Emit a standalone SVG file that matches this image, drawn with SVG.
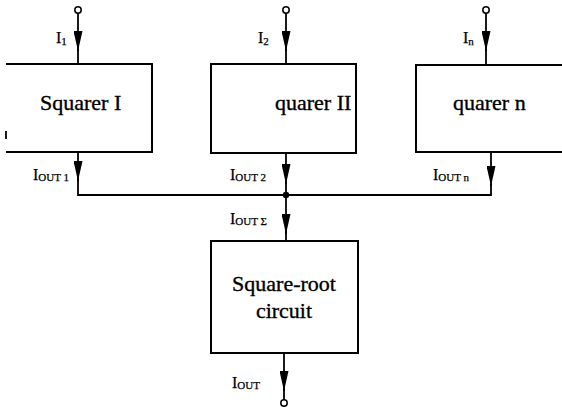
<svg xmlns="http://www.w3.org/2000/svg" width="562" height="412" viewBox="0 0 562 412">
<style>
.box{fill:none;stroke:#000;stroke-width:2}
.ln{fill:none;stroke:#000;stroke-width:1.8}
.term{fill:#fff;stroke:#000;stroke-width:1.5}
.big{font-family:"Liberation Serif",serif;font-size:22px;fill:#000;stroke:#000;stroke-width:0.35}
.lab{font-family:"Liberation Serif",serif;font-size:16px;fill:#000;stroke:#000;stroke-width:0.25}
.sub{font-size:11px}
</style>
<defs>
<marker id="ah" viewBox="0 0 20 9" refX="20" refY="4.5" markerWidth="20" markerHeight="9" markerUnits="userSpaceOnUse" orient="auto">
<path d="M0,0 L20,4.5 L0,9 Z" fill="#000"/>
</marker>
</defs>
<rect width="562" height="412" fill="#fff"/>
<g id="connectors">
<line class="ln" x1="78" y1="13" x2="78" y2="51" marker-end="url(#ah)"/>
<line class="ln" x1="78" y1="49" x2="78" y2="64"/>
<line class="ln" x1="286" y1="13" x2="286" y2="51" marker-end="url(#ah)"/>
<line class="ln" x1="286" y1="49" x2="286" y2="64"/>
<line class="ln" x1="486" y1="13" x2="486" y2="51" marker-end="url(#ah)"/>
<line class="ln" x1="486" y1="49" x2="486" y2="64"/>
<line class="ln" x1="78" y1="152" x2="78" y2="181" marker-end="url(#ah)"/>
<line class="ln" x1="286" y1="153" x2="286" y2="184" marker-end="url(#ah)"/>
<line class="ln" x1="491" y1="152" x2="491" y2="186" marker-end="url(#ah)"/>
<polyline class="ln" points="78,179 78,195 491,195 491,184"/>
<line class="ln" x1="286" y1="182" x2="286" y2="195"/>
<circle cx="286" cy="195" r="3.2" fill="#000"/>
<line class="ln" x1="286" y1="195" x2="286" y2="234" marker-end="url(#ah)"/>
<line class="ln" x1="286" y1="232" x2="286" y2="241"/>
<line class="ln" x1="284" y1="353" x2="284" y2="391" marker-end="url(#ah)"/>
<line class="ln" x1="284" y1="389" x2="284" y2="400"/>
<circle class="term" cx="78" cy="10" r="3.2"/>
<circle class="term" cx="286" cy="10" r="3.2"/>
<circle class="term" cx="486" cy="10" r="3.2"/>
<circle class="term" cx="284" cy="403" r="3.2"/>
<text class="lab" x="56" y="43">I<tspan class="sub" dy="2">1</tspan></text>
<text class="lab" x="258" y="43">I<tspan class="sub" dy="2">2</tspan></text>
<text class="lab" x="463" y="43">I<tspan class="sub" dy="2">n</tspan></text>
<text class="lab" x="33" y="180">I<tspan class="sub" dy="1">OUT 1</tspan></text>
<text class="lab" x="230" y="180">I<tspan class="sub" dy="1">OUT 2</tspan></text>
<text class="lab" x="433" y="180">I<tspan class="sub" dy="1">OUT n</tspan></text>
<text class="lab" x="230" y="224">I<tspan class="sub" dy="1">OUT Σ</tspan></text>
<text class="lab" x="232" y="388">I<tspan class="sub" dy="1">OUT</tspan></text>
</g>
<g id="squarer1">
<polyline class="box" points="6,64 152,64 152,152 6,152"/>
<line class="ln" x1="6" y1="131" x2="6" y2="139"/>
<text class="big" x="40" y="110">Squarer I</text>
</g>
<g id="squarer2">
<rect class="box" x="211" y="64" width="145" height="89"/>
<text class="big" x="275" y="110">quarer II</text>
</g>
<g id="squarern">
<polyline class="box" points="562,65 416,65 416,152 562,152"/>
<text class="big" x="453" y="110">quarer n</text>
</g>
<g id="sqrt">
<rect class="box" x="211" y="241" width="147" height="112"/>
<text class="big" x="284" y="291" text-anchor="middle">Square-root</text>
<text class="big" x="284" y="318" text-anchor="middle">circuit</text>
</g>
</svg>
